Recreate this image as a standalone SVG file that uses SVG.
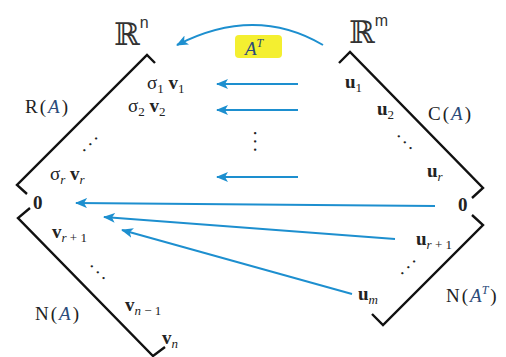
<svg xmlns="http://www.w3.org/2000/svg" width="506" height="357" viewBox="0 0 506 357">
<defs>
<marker id="ah" viewBox="0 0 12 10" refX="11" refY="5" markerWidth="12" markerHeight="10" markerUnits="userSpaceOnUse" orient="auto">
<path d="M0,0 L12,5 L0,10 L3,5 z" fill="#1d8fcf"/>
</marker>
<style>
.frame{fill:none;stroke:#111;stroke-width:2.4;stroke-linejoin:miter}
.arr{fill:none;stroke:#1d8fcf;stroke-width:2;marker-end:url(#ah)}
.lbl{font-family:"Liberation Serif",serif;font-size:19px;fill:#222}
.b{font-weight:bold}
.i{font-style:italic}
.ia{font-style:italic;fill:#2b4a7a}
.sub{font-size:13px}
.bb{font-family:"DejaVu Serif",serif;font-size:31px;fill:#333}
.sup{font-family:"Liberation Sans",sans-serif;font-size:16px;fill:#333}
.dots{font-family:"Liberation Serif",serif;font-size:19px;fill:#222;letter-spacing:3.5px}
</style>
</defs>
<rect width="506" height="357" fill="#ffffff"/>

<g id="frames">
<polyline id="rowspace" class="frame" points="155,63 147,55 17,185 27,194"/>
<polyline id="nullspace" class="frame" points="30,208 18,218 153,356 165,347"/>
<polyline id="colspace" class="frame" points="339,63 350,52 483,188 472,198"/>
<polyline id="leftnull" class="frame" points="472,215 483,225 383,325 372,314"/>
</g>

<g id="spaces">
<text class="bb" x="114" y="45">ℝ<tspan class="sup" dy="-17">n</tspan></text>
<text class="bb" x="349" y="43">ℝ<tspan class="sup" dy="-17">m</tspan></text>
</g>

<g id="AT-label">
<rect x="235" y="35" width="47" height="23" rx="4" fill="#f4ef30"/>
<text class="lbl" x="245" y="55" style="font-size:19px"><tspan class="ia">A</tspan><tspan class="ia" style="font-size:12px" dy="-8">T</tspan></text>
</g>

<g id="connectors">
<path class="arr" d="M323,45 Q255,5 177,45"/>
<line class="arr" x1="298" y1="84" x2="217" y2="84"/>
<line class="arr" x1="298" y1="110" x2="217" y2="110"/>
<line class="arr" x1="298" y1="177" x2="217" y2="177"/>
<line class="arr" x1="435" y1="206" x2="76" y2="203"/>
<line class="arr" x1="395" y1="239" x2="104" y2="217"/>
<line class="arr" x1="352" y1="294" x2="122" y2="230"/>
</g>

<g id="row-space-labels">
<text class="lbl" x="25" y="113">R<tspan dx="2">(</tspan><tspan class="ia" dx="2">A</tspan><tspan dx="2">)</tspan></text>
<text class="lbl" x="147" y="89">σ<tspan class="sub" dy="4">1</tspan><tspan dy="-4"> </tspan><tspan class="b">v</tspan><tspan class="sub" dy="4">1</tspan></text>
<text class="lbl" x="128" y="112">σ<tspan class="sub" dy="4">2</tspan><tspan dy="-4"> </tspan><tspan class="b">v</tspan><tspan class="sub" dy="4">2</tspan></text>
<text class="dots" transform="rotate(-45 90 143)" x="91" y="145" text-anchor="middle">...</text>
<text class="lbl" x="50" y="180">σ<tspan class="sub i" dy="4">r</tspan><tspan dy="-4"> </tspan><tspan class="b">v</tspan><tspan class="sub i" dy="4">r</tspan></text>
<text class="lbl b" x="33" y="209">0</text>
</g>

<g id="null-space-labels">
<text class="lbl" x="52" y="238"><tspan class="b">v</tspan><tspan class="sub" dy="4"><tspan class="i">r</tspan> + 1</tspan></text>
<text class="dots" transform="rotate(45 99 272)" x="100" y="274" text-anchor="middle">...</text>
<text class="lbl" x="35" y="320">N<tspan dx="2">(</tspan><tspan class="ia" dx="2">A</tspan><tspan dx="2">)</tspan></text>
<text class="lbl" x="125" y="311"><tspan class="b">v</tspan><tspan class="sub" dy="4"><tspan class="i">n</tspan> − 1</tspan></text>
<text class="lbl" x="162" y="344"><tspan class="b">v</tspan><tspan class="sub i" dy="4">n</tspan></text>
</g>

<g id="col-space-labels">
<text class="lbl" x="345" y="88"><tspan class="b">u</tspan><tspan class="sub" dy="4">1</tspan></text>
<text class="lbl" x="377" y="115"><tspan class="b">u</tspan><tspan class="sub" dy="4">2</tspan></text>
<text class="lbl" x="428" y="120">C<tspan dx="2">(</tspan><tspan class="ia" dx="2">A</tspan><tspan dx="2">)</tspan></text>
<text class="dots" transform="rotate(45 406 142)" x="407" y="144" text-anchor="middle">...</text>
<text class="lbl" x="427" y="177"><tspan class="b">u</tspan><tspan class="sub i" dy="4">r</tspan></text>
<text class="lbl b" x="458" y="211">0</text>
</g>

<g id="left-null-labels">
<text class="lbl" x="416" y="245"><tspan class="b">u</tspan><tspan class="sub" dy="4"><tspan class="i">r</tspan> + 1</tspan></text>
<text class="dots" transform="rotate(-45 408 266)" x="409" y="268" text-anchor="middle">...</text>
<text class="lbl" x="358" y="300"><tspan class="b">u</tspan><tspan class="sub i" dy="4">m</tspan></text>
<text class="lbl" x="446" y="302">N<tspan dx="2">(</tspan><tspan class="ia" dx="2">A</tspan><tspan class="ia" style="font-size:12px" dy="-8">T</tspan><tspan dy="8" dx="2">)</tspan></text>
</g>

<g id="vdots">
<text class="dots" transform="rotate(90 256 142)" x="257" y="144" text-anchor="middle">...</text>
</g>
</svg>
